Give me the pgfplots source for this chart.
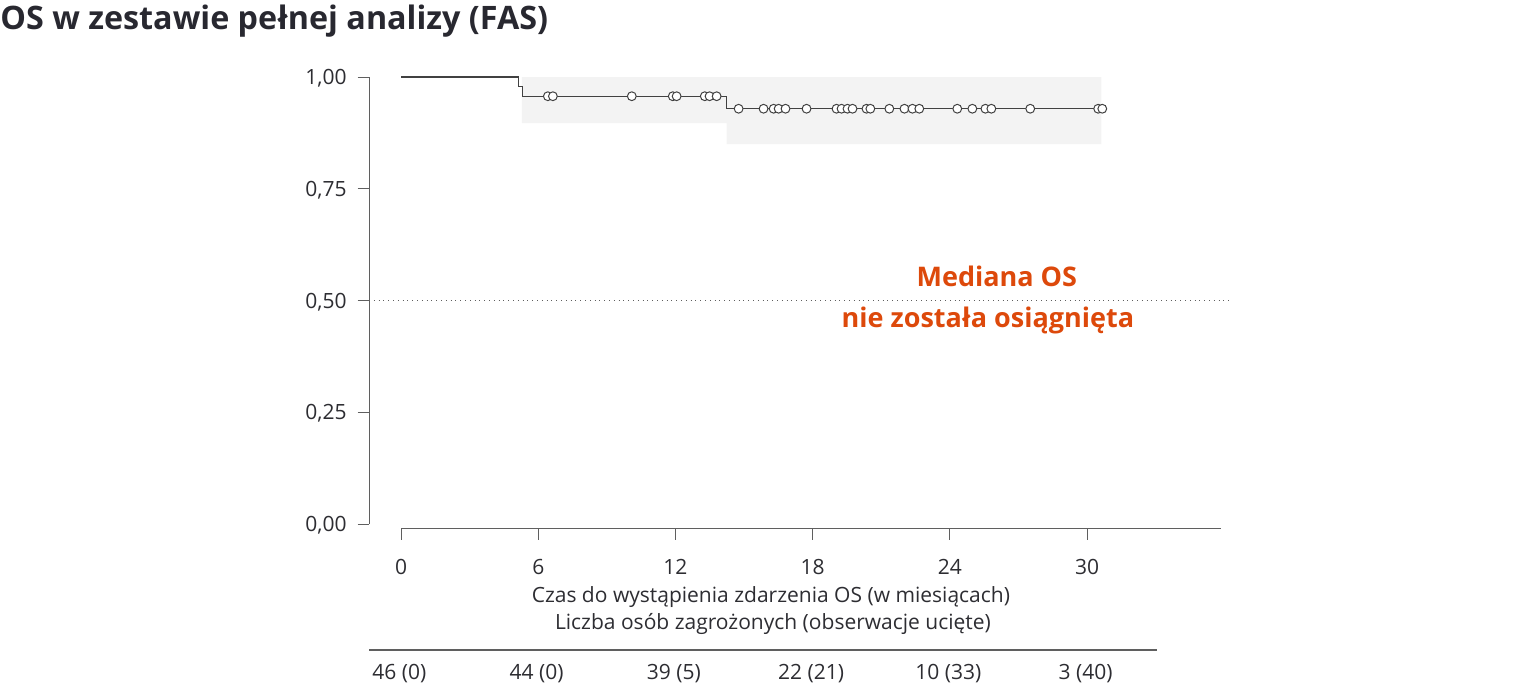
\documentclass[border=0pt]{standalone}
\usepackage{fontspec}
\setmainfont{Open Sans}
\usepackage{pgfplots}
\pgfplotsset{compat=1.18}
\definecolor{band}{RGB}{243,243,243}
\definecolor{curve}{RGB}{65,65,65}
\definecolor{axisgray}{RGB}{95,95,95}
\definecolor{txt}{RGB}{45,45,50}
\definecolor{titlec}{RGB}{40,40,48}
\definecolor{orangec}{RGB}{221,73,11}
\begin{document}
\begin{tikzpicture}
\useasboundingbox (0,0) rectangle (764pt,-343pt);
\node[anchor=base west, inner sep=0, font=\bfseries\fontsize{16.15}{19}\selectfont, text=titlec] at (0,-14.5pt) {OS w zestawie pełnej analizy (FAS)};
\begin{axis}[
  at={(184.5pt,-264pt)}, anchor=south west,
  scale only axis, width=430pt, height=225.5pt,
  xmin=-1.4, xmax=36.2, ymin=-0.00895, ymax=1,
  axis x line=bottom, axis y line=left,
  axis line style={draw=none, -},
  tick align=outside,
  major tick length=5.75pt,
  tick style={draw=axisgray, line width=0.5pt},
  xtick={0,6,12,18,24,30},
  xticklabels={0,6,12,18,24,30},
  ytick={0,0.25,0.5,0.75,1},
  yticklabels={{0,00},{0,25},{0,50},{0,75},{1,00}},
  xticklabel style={anchor=base, inner sep=0, font=\fontsize{10.5}{12}\selectfont, text=txt, yshift=-17.6pt},
  yticklabel style={anchor=base east, inner sep=0, font=\fontsize{10.5}{12}\selectfont, text=txt, yshift=-3.75pt, xshift=-5.25pt},
  /pgf/number format/assume math mode=true,
  clip=false,
]
% confidence band
\addplot[fill=band, draw=none] coordinates {(5.28,1) (30.62,1) (30.62,0.85) (14.24,0.85) (14.24,0.897) (5.28,0.897)} -- cycle;
% median reference line
\addplot[axisgray, line width=0.4pt, dotted] coordinates {(-1.4,0.5) (36.2,0.5)};
% KM curve
\addplot[curve, line width=0.55pt, const plot, mark=none] coordinates {(0,1) (5.15,0.978) (5.33,0.957) (14.24,0.929) (30.66,0.929)};
% censored marks
\addplot[only marks, mark=*, mark size=2.2pt, mark options={fill=white, draw=curve, line width=0.5pt}] coordinates {
(6.42,0.957) (6.64,0.957) (10.09,0.957) (11.88,0.957) (12.05,0.957) (13.28,0.957) (13.49,0.957) (13.80,0.957)
(14.76,0.929) (15.85,0.929) (16.29,0.929) (16.51,0.929) (16.81,0.929) (17.73,0.929) (19.04,0.929) (19.26,0.929)
(19.52,0.929) (19.74,0.929) (20.35,0.929) (20.52,0.929) (21.35,0.929) (22.01,0.929) (22.36,0.929) (22.66,0.929)
(24.32,0.929) (24.98,0.929) (25.55,0.929) (25.81,0.929) (27.51,0.929) (30.48,0.929) (30.66,0.929)};
% axis lines
\draw[axisgray, line width=0.5pt] (axis cs:-1.4,0) -- (axis cs:-1.4,1);
\draw[axisgray, line width=0.5pt] (axis cs:0,-0.00895) -- (axis cs:35.85,-0.00895);
% median text
\node[anchor=base, text=orangec, font=\bfseries\fontsize{13.5}{16}\selectfont] at (axis cs:26.05,0.5324) {Mediana OS};
\node[anchor=base, text=orangec, font=\bfseries\fontsize{13.5}{16}\selectfont] at (axis cs:25.66,0.4385) {nie została osiągnięta};
% axis titles
\node[anchor=base, text=txt, font=\fontsize{10.5}{12}\selectfont] at (axis cs:16.17,-0.1745) {Czas do wystąpienia zdarzenia OS (w miesiącach)};
\node[anchor=base, text=txt, font=\fontsize{10.5}{12}\selectfont] at (axis cs:16.26,-0.2349) {Liczba osób zagrożonych (obserwacje ucięte)};
% risk table
\draw[axisgray, line width=0.6pt] (axis cs:-1.4,-0.2819) -- (axis cs:33.04,-0.2819);
\node[anchor=base, text=txt, font=\fontsize{10.5}{12}\selectfont] at (axis cs:-0.07,-0.348) {46 (0)};
\node[anchor=base, text=txt, font=\fontsize{10.5}{12}\selectfont] at (axis cs:5.93,-0.348) {44 (0)};
\node[anchor=base, text=txt, font=\fontsize{10.5}{12}\selectfont] at (axis cs:11.93,-0.348) {39 (5)};
\node[anchor=base, text=txt, font=\fontsize{10.5}{12}\selectfont] at (axis cs:17.93,-0.348) {22 (21)};
\node[anchor=base, text=txt, font=\fontsize{10.5}{12}\selectfont] at (axis cs:23.93,-0.348) {10 (33)};
\node[anchor=base, text=txt, font=\fontsize{10.5}{12}\selectfont] at (axis cs:29.93,-0.348) {3 (40)};
\end{axis}
\end{tikzpicture}
\end{document}
